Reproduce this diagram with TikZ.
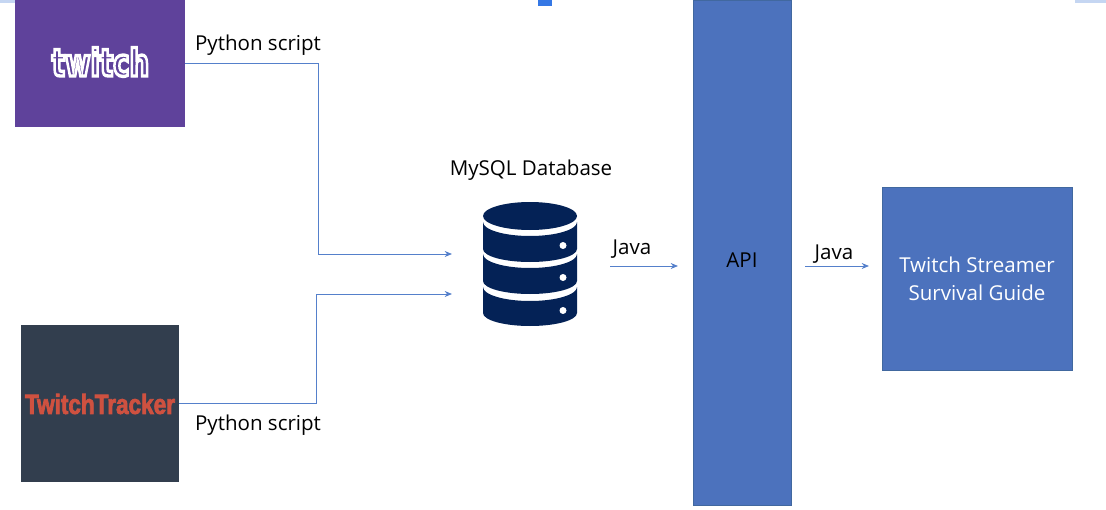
\documentclass[tikz,border=0pt]{standalone}
\usepackage{fontspec}
\setmainfont{Open Sans}
\newfontfamily\twitchfont[BoldFeatures={FakeBold=9}]{DejaVu Sans}
\newfontfamily\trackerfont[BoldFeatures={FakeBold=3}]{Liberation Sans}
\usetikzlibrary{arrows.meta}
\definecolor{twitchpurple}{HTML}{5F429B}
\definecolor{trackerdark}{HTML}{323E4E}
\definecolor{trackerred}{HTML}{CF5140}
\definecolor{boxblue}{HTML}{4C72BD}
\definecolor{boxedge}{HTML}{41689F}
\definecolor{linkblue}{HTML}{5580CB}
\definecolor{dbnavy}{HTML}{042256}
\definecolor{markblue}{HTML}{3578E5}
\definecolor{markpale}{HTML}{C5D6F2}
\tikzset{
    lbl/.style={font=\fontsize{15.4}{21}\selectfont,text=black,inner sep=0pt},
    apibox/.style={draw=boxedge,fill=boxblue,line width=0.5pt,inner sep=0pt},
    flow/.style={draw=linkblue,line width=0.75pt,-{Stealth[length=5.5pt,width=4.5pt]}}
}
\begin{document}
\begin{tikzpicture}[x=0.75pt,y=-0.75pt]
    \useasboundingbox (0,0) rectangle (1106,510);
    % marks along the top edge
    \fill[markpale] (0,0) rectangle (15,3);
    \fill[markpale] (1075,0) rectangle (1106,3);
    \fill[markblue] (538,0) rectangle (552,6);
    % sources
    \node[fill=twitchpurple,minimum width=127.5pt,minimum height=95.25pt,inner sep=0pt] (twitch) at (100,63.5) {};
    \node[font=\twitchfont\bfseries\fontsize{23}{23}\selectfont,text=twitchpurple,xscale=0.9,yscale=1.22,inner sep=0pt] (twitchlogo) at (100.5,62) {\special{pdf:code 1 1 1 RG}twitch};
    \node[fill=trackerdark,minimum width=118.5pt,minimum height=117.75pt,inner sep=0pt] (tracker) at (100,403.5) {};
    \node[font=\trackerfont\bfseries\fontsize{18}{18}\selectfont,text=trackerred,xscale=0.94,yscale=1.15,inner sep=0pt] (trackerlogo) at (100,404) {TwitchTracker};
    % database
    \fill[dbnavy] (530,216) ellipse[x radius=47,y radius=14];
    \foreach \y/\h in {222/27,254/27,287/26}{
        \fill[dbnavy] (483,\y) arc[start angle=180,end angle=0,x radius=47,y radius=14]
            -- ++(0,\h) arc[start angle=0,end angle=180,x radius=47,y radius=13] -- cycle;
        \fill[white] (563,\y+23.5) circle[radius=3.5];
    }
    % right side
    \node[apibox,minimum width=73.5pt,minimum height=378.75pt] (api) at (742,252.5) {};
    \node[lbl,text=black] (apilabel) at (742,260) {API};
    \node[apibox,minimum width=142.5pt,minimum height=137.25pt,align=center,text=white,
        font=\fontsize{15.4}{21}\selectfont] (guide) at (977,278.5) {Twitch Streamer\\Survival Guide};
    % labels
    \node[lbl] (pyone) at (258,45) {Python script};
    \node[lbl] (pytwo) at (258,425) {Python script};
    \node[lbl] (dblabel) at (531,170) {MySQL Database};
    \node[lbl] (javaone) at (632,249) {Java};
    \node[lbl] (javatwo) at (834,254) {Java};
    % connectors
    \coordinate (twitchbend) at (318.5,63.5);
    \coordinate (dbtop) at (452,254);
    \coordinate (trackerbend) at (316,403.5);
    \coordinate (dbbottom) at (452,294);
    \coordinate (javaonestart) at (610,266);
    \coordinate (javaoneend) at (678,266);
    \coordinate (javatwostart) at (805,266);
    \coordinate (javatwoend) at (869,266);
    \draw[flow] (twitch.east) -- (twitchbend) |- (dbtop);
    \draw[flow] (tracker.east) -- (trackerbend) |- (dbbottom);
    \draw[flow] (javaonestart) -- (javaoneend);
    \draw[flow] (javatwostart) -- (javatwoend);
\end{tikzpicture}
\end{document}
